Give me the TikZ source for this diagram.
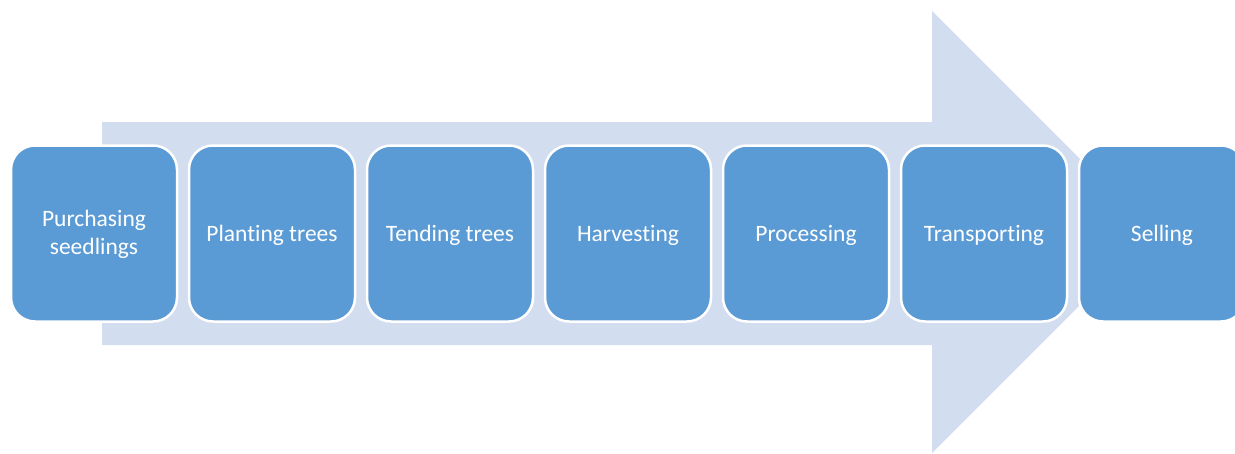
\documentclass[tikz,border=0pt]{standalone}
\usepackage{fontspec}
\setmainfont[Ligatures={NoCommon,NoRare,NoContextual}]{Carlito}
\definecolor{arrowfill}{HTML}{D2DEEF}
\definecolor{boxfill}{HTML}{5B9BD5}
\tikzset{
  stagebox/.style={rectangle, rounded corners=24pt, draw=white, line width=2.5pt,
    fill=boxfill, minimum width=166pt, minimum height=176pt,
    inner sep=0pt, outer sep=0pt},
  stagetext/.style={text=white, inner sep=0pt, outer sep=0pt, align=center,
    font=\fontsize{23.5}{27.3}\selectfont}
}
\begin{document}
\begin{tikzpicture}[x=1pt,y=-1pt]
\useasboundingbox (0,0) rectangle (1235,453);
\clip (0,0) rectangle (1235,453);
\fill[arrowfill] (102,122) -- (932,122) -- (932,11) -- (1153,232) -- (932,453) -- (932,345) -- (102,345) -- cycle;
\foreach \i/\x in {1/94,2/272,3/450,4/628,5/806,6/984,7/1162}
  \node[stagebox] (s\i) at (\x,233.5) {};
\node[stagetext] (t1) at ([yshift=-1pt]s1.center) {Purchasing\\seedlings};
\node[stagetext, anchor=base] (t2) at ([yshift=-7.5pt]s2.center) {Planting trees};
\node[stagetext, anchor=base] (t3) at ([yshift=-7.5pt]s3.center) {Tending trees};
\node[stagetext, anchor=base] (t4) at ([yshift=-7.5pt]s4.center) {Harvesting};
\node[stagetext, anchor=base] (t5) at ([yshift=-7.5pt]s5.center) {Processing};
\node[stagetext, anchor=base] (t6) at ([yshift=-7.5pt]s6.center) {Transporting};
\node[stagetext, anchor=base] (t7) at ([yshift=-7.5pt]s7.center) {Selling};
\end{tikzpicture}
\end{document}
